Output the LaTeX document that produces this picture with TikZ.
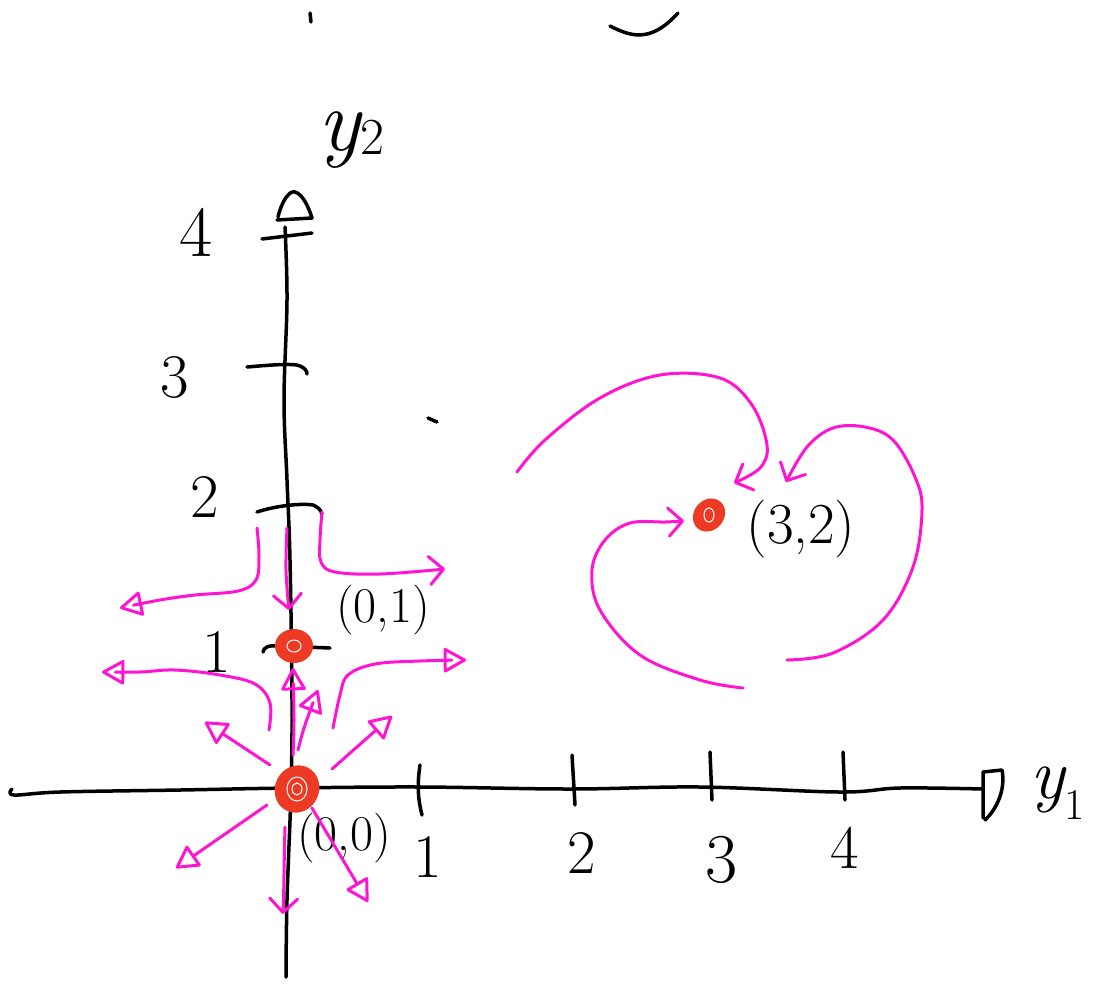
\documentclass[tikz,border=0pt]{standalone}
\usepackage{fontspec}
\usetikzlibrary{arrows.meta,shapes.geometric}
\definecolor{pinkc}{RGB}{255,20,210}
\definecolor{redc}{RGB}{236,58,36}
\tikzset{
  ink/.style={draw=black, line width=3.5pt, line cap=round, line join=round},
  flow/.style={draw=pinkc, line width=3pt, line cap=round, line join=round},
  loopt/.style={-{Triangle[open,round,length=24pt,width=26pt]}},
  barbt/.style={-{Straight Barb[round,length=14pt,width=28pt]}},
  fixpt/.style={ellipse, fill=redc, draw=redc, line width=2pt, inner sep=0pt},
  scrib/.style={draw=white, line width=1pt},
  lbl/.style={font=\fontsize{62}{62}\selectfont, inner sep=0pt},
  crd/.style={font=\fontsize{50}{50}\selectfont, inner sep=0pt},
  axl/.style={font=\fontsize{72}{72}\selectfont\itshape, inner sep=0pt}
}
\begin{document}
\begin{tikzpicture}[x=1pt,y=-1pt]
\useasboundingbox (0,0) rectangle (1094,983);
\fill[white] (0,0) rectangle (1094,983);

% stray marks
\draw[ink] (310,13) -- (311,22);
\draw[ink] (610,26) .. controls (630,36) and (650,44) .. (678,13);
\draw[ink] (428,418) -- (437,422);

% horizontal axis y1
\draw[ink] plot[smooth,tension=0.6] coordinates {(12,789) (14,795) (60,792) (180,790) (290,788) (420,787) (570,789) (700,787) (840,792) (900,788) (983,789)};
\draw[ink] (983,818) -- (983,772) -- (1002,770) .. controls (1006,790) and (996,810) .. (985,820);
\draw[ink] (420,765) .. controls (417,785) and (418,800) .. (422,815);
\draw[ink] (572,755) -- (575,805);
\draw[ink] (710,752) -- (712,800);
\draw[ink] (843,752) -- (845,800);

% vertical axis y2
\draw[ink] plot[smooth,tension=0.6] coordinates {(285,227) (287,300) (284,400) (287,480) (290,560) (292,700) (291,790) (287,900) (286,977)};
\draw[ink] (277,220) -- (312,218);
\draw[ink] (278,217) .. controls (282,200) and (290,190) .. (295,192) .. controls (302,194) and (308,205) .. (312,218);
\draw[ink] (262,239) -- (312,233);
\draw[ink] (247,367) .. controls (270,365) and (295,363) .. (300,366) .. controls (305,368) and (307,371) .. (307,374);
\draw[ink] (257,512) .. controls (275,506) and (300,503) .. (313,505) .. controls (318,507) and (321,510) .. (322,514);
\draw[ink] (263,652) .. controls (264,647) and (268,645) .. (280,646) -- (330,648);

% axis labels
\node[lbl] (t1x) at (428,857) {1};
\node[lbl] (t2x) at (582,853) {2};
\node[lbl,font=\fontsize{70}{70}\selectfont] (t3x) at (722,860) {3};
\node[lbl] (t4x) at (845,848) {4};
\node[lbl] (t1y) at (217,652) {1};
\node[lbl] (t2y) at (205,497) {2};
\node[lbl] (t3y) at (175,377) {3};
\node[lbl,font=\fontsize{72}{72}\selectfont] (t4y) at (196,232) {4};
\node[axl,anchor=base west] (ylab1) at (1030,798) {y\raisebox{-0.3em}{\fontsize{44}{44}\selectfont\upshape 1}};
\node[axl,anchor=base west,font=\fontsize{88}{88}\selectfont\itshape] (ylab2) at (318,150) {y\raisebox{-0.05em}{\fontsize{52}{52}\selectfont\upshape 2}};

% fixed points
\node[fixpt, minimum width=36pt, minimum height=32pt] (p01) at (294,646) {};
\draw[scrib] (p01.center) ellipse (7pt and 6pt);
\node[fixpt, minimum width=42pt, minimum height=46pt, rotate=-25] (p00) at (297,789) {};
\draw[scrib] (p00.center) ellipse (10pt and 12pt);
\draw[scrib] (p00.center) ellipse (5pt and 6pt);
\node[fixpt, minimum width=28pt, minimum height=33pt, rotate=-40] (p32) at (709,515) {};
\draw[scrib] (p32.center) ellipse (5pt and 7pt);

% coordinate labels
\node[crd] (l01) at (383,610) {(0,1)};
\node[crd] (l00) at (344,838) {(0,0)};
\node[crd,font=\fontsize{58}{58}\selectfont] (l32) at (801,529) {(3,2)};

% flows near (0,1)
\draw[flow,loopt] plot[smooth,tension=0.6] coordinates {(257,528) (259,556) (256,580) (238,591) (195,595) (160,600) (120,608)};
\draw[flow,loopt] plot[smooth,tension=0.6] coordinates {(269,730) (270,703) (255,684) (220,675) (175,670) (140,672) (102,672)};
\draw[flow,barbt] plot[smooth,tension=0.6] coordinates {(322,512) (320,540) (321,562) (335,572) (380,574) (445,569)};
\draw[flow,loopt] plot[smooth,tension=0.6] coordinates {(333,728) (340,695) (348,675) (375,664) (420,661) (466,660)};
\draw[flow,barbt] plot[smooth,tension=0.6] coordinates {(287,528) (286,570) (289,610)};
\draw[flow,loopt] plot[smooth,tension=0.6] coordinates {(293,755) (294,720) (293,668)};
\draw[flow,loopt] plot[smooth,tension=0.6] coordinates {(298,750) (305,725) (318,690)};

% flows near (0,0)
\draw[flow,loopt] (270,765) -- (205,722);
\draw[flow,loopt] (332,769) -- (392,716);
\draw[flow,loopt] (267,805) -- (176,868);
\draw[flow,barbt] (285,827) .. controls (284,860) and (284,890) .. (283,914);
\draw[flow,loopt] (312,808) -- (368,902);

% flows near (3,2)
\draw[flow,barbt] plot[smooth,tension=0.6] coordinates {(517,472) (545,440) (600,398) (660,375) (720,378) (752,405) (767,445) (760,468) (734,483)};
\draw[flow,barbt] plot[smooth,tension=0.6] coordinates {(743,688) (700,680) (640,655) (600,610) (592,570) (605,540) (630,523) (665,522) (684,521)};
\draw[flow,barbt] plot[smooth,tension=0.6] coordinates {(787,660) (833,653) (883,620) (913,567) (922,510) (915,477) (893,440) (865,427) (833,428) (807,447) (786,482)};
\end{tikzpicture}
\end{document}
